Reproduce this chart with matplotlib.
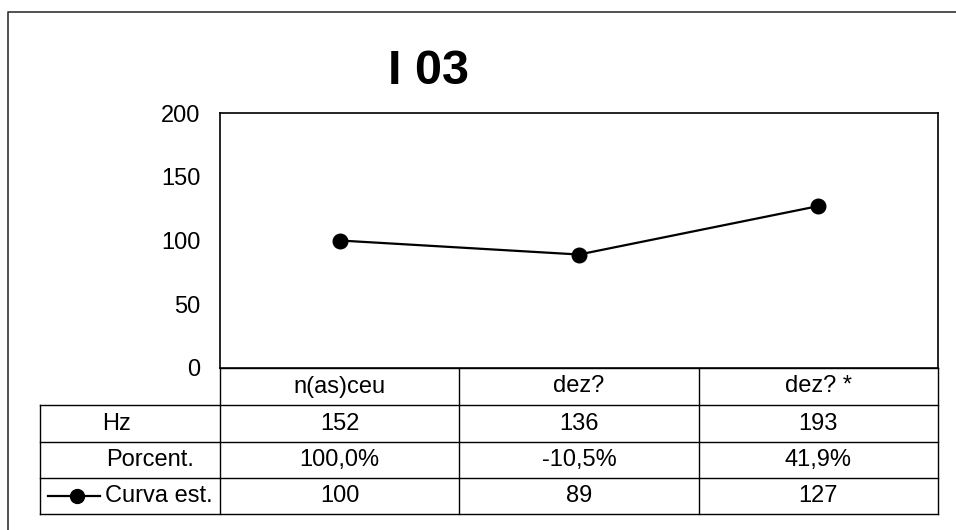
import matplotlib.pyplot as plt
import numpy as np

plt.rcParams['font.family'] = ['Liberation Sans', 'DejaVu Sans']

# dados
categorias = ['n(as)ceu', 'dez?', 'dez? *']
hz = [152, 136, 193]
porcent = ['100,0%', '-10,5%', '41,9%']
curva = [100, 89, 127]
linhas = ['Hz', 'Porcent.', 'Curva est.']
titulo = 'I 03'

W, H = 956, 530
fig = plt.figure(figsize=(W / 100, H / 100), dpi=100)

fs = 17

# area do grafico (pixels)
px0, px1, py0, py1 = 220, 938, 113, 368
ax = fig.add_axes([px0 / W, 1 - py1 / H, (px1 - px0) / W, (py1 - py0) / H])
x = np.arange(len(categorias))
ax.plot(x, curva, color='black', lw=1.6, marker='o', ms=10.5)
ax.set_xlim(-0.5, len(categorias) - 0.5)
ax.set_ylim(0, 200)
ax.set_yticks([0, 50, 100, 150, 200])
ax.set_xticks([])
ax.tick_params(axis='y', length=0, pad=14, labelsize=fs)
for s in ax.spines.values():
    s.set_linewidth(1.2)

# camada em pixels para moldura e tabela
ov = fig.add_axes([0, 0, 1, 1], zorder=-1)
ov.set_xlim(0, W)
ov.set_ylim(H, 0)
ov.axis('off')
ov.patch.set_alpha(0)

# moldura externa
ov.plot([8, 8, W], [H, 12, 12], color='#333333', lw=1.2)

fig.text(428 / W, 1 - 72 / H, titulo, ha='center', va='center',
         fontsize=35, fontweight='bold')

# tabela de dados
tx0 = 40
row_y = [368, 405, 442, 478, 514]
colw = (px1 - px0) / len(categorias)
col_x = [px0 + i * colw for i in range(len(categorias) + 1)]

kw = dict(color='black', lw=1.0)
ov.plot([px0, px0], [row_y[0], row_y[-1]], **kw)
ov.plot([px1, px1], [row_y[0], row_y[-1]], **kw)
for cx in col_x[1:-1]:
    ov.plot([cx, cx], [row_y[0], row_y[-1]], **kw)
ov.plot([tx0, tx0], [row_y[1], row_y[-1]], **kw)
for i, ry in enumerate(row_y):
    xa = px0 if i == 0 else tx0
    ov.plot([xa, px1], [ry, ry], **kw)

def mid(i):
    return (row_y[i] + row_y[i + 1]) / 2

for j, c in enumerate(categorias):
    cx = (col_x[j] + col_x[j + 1]) / 2
    ov.text(cx, mid(0), c, ha='center', va='center', fontsize=fs)
    ov.text(cx, mid(1), str(hz[j]), ha='center', va='center', fontsize=fs)
    ov.text(cx, mid(2), porcent[j], ha='center', va='center', fontsize=fs)
    ov.text(cx, mid(3), str(curva[j]), ha='center', va='center', fontsize=fs)

ov.text(117, mid(1), linhas[0], ha='center', va='center', fontsize=fs)
ov.text(150, mid(2), linhas[1], ha='center', va='center', fontsize=fs)
ov.text(105, mid(3), linhas[2], ha='left', va='center', fontsize=fs)
# chave da legenda
ov.plot([48, 100], [mid(3), mid(3)], color='black', lw=1.6)
ov.plot([77], [mid(3)], color='black', marker='o', ms=10)

fig.savefig('out.png', dpi=100)
